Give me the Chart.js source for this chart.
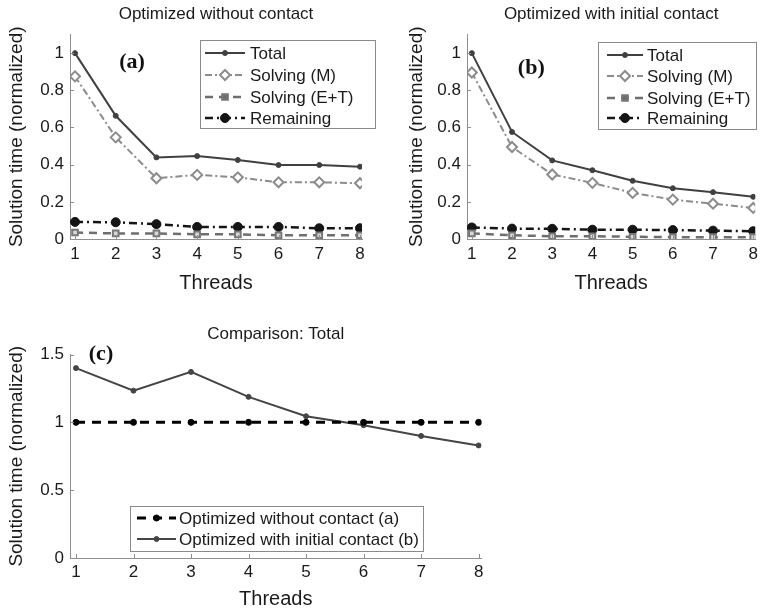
<!DOCTYPE html>
<html>
<head>
<meta charset="utf-8">
<script src="https://cdn.jsdelivr.net/npm/chart.js@4.4.0/dist/chart.umd.min.js"></script>
<style>
  html, body { margin: 0; padding: 0; background: #fff; }
  body { width: 763px; height: 614px; position: relative; overflow: hidden; }
  canvas { position: absolute; }
</style>
</head>
<body>
<canvas id="ca" width="380" height="300" style="left:0;top:0;width:380px;height:300px"></canvas>
<canvas id="cb" width="383" height="300" style="left:380px;top:0;width:383px;height:300px"></canvas>
<canvas id="cc" width="490" height="314" style="left:0;top:300px;width:490px;height:314px"></canvas>
<script>
// ---------- data ----------
const threads = [1, 2, 3, 4, 5, 6, 7, 8];
const seriesNames = ["Total", "Solving (M)", "Solving (E+T)", "Remaining"];

const aTotal     = [1.000, 0.663, 0.439, 0.446, 0.425, 0.398, 0.398, 0.389];
const aSolvingM  = [0.875, 0.547, 0.327, 0.345, 0.332, 0.305, 0.305, 0.300];
const aSolvingET = [0.035, 0.030, 0.030, 0.025, 0.025, 0.020, 0.020, 0.020];
const aRemaining = [0.092, 0.090, 0.080, 0.065, 0.065, 0.065, 0.058, 0.058];

const bTotal     = [1.000, 0.576, 0.423, 0.370, 0.313, 0.273, 0.252, 0.227];
const bSolvingM  = [0.896, 0.495, 0.347, 0.302, 0.248, 0.212, 0.190, 0.167];
const bSolvingET = [0.030, 0.020, 0.015, 0.015, 0.012, 0.010, 0.010, 0.010];
const bRemaining = [0.062, 0.056, 0.055, 0.050, 0.050, 0.048, 0.045, 0.042];

const cNames   = ["Optimized without contact (a)", "Optimized with initial contact (b)"];
const cWithout = [1, 1, 1, 1, 1, 1, 1, 1];
const cWith    = [1.400, 1.234, 1.372, 1.188, 1.045, 0.979, 0.900, 0.830];

const abYTicks = [0, 0.2, 0.4, 0.6, 0.8, 1];
const cYTicks  = [0, 0.5, 1, 1.5];

const titles = ["Optimized without contact", "Optimized with initial contact", "Comparison: Total"];
const panelLabels = ["(a)", "(b)", "(c)"];
const xTitle = "Threads";
const yTitle = "Solution time (normalized)";

// ---------- helpers ----------
const pts = arr => threads.map((t, i) => ({ x: t, y: arr[i] }));
const SANS = '"Liberation Sans", Arial, sans-serif';
const AXIS = '#8f8f8f';

function fourSeries(total, m, et, rem) {
  return [
    { label: seriesNames[0], data: pts(total), borderColor: '#404040', borderWidth: 2,
      pointStyle: 'circle', pointRadius: 2.5, pointBackgroundColor: '#404040', pointBorderColor: '#404040',
      pointBorderWidth: 1, legendFill: '#404040', legendRadius: 2.5 },
    { label: seriesNames[1], data: pts(m), borderColor: '#8c8c8c', borderWidth: 2, borderDash: [7, 3, 2, 3],
      pointStyle: 'rectRot', pointRadius: 5, pointBackgroundColor: '#ffffff', pointBorderColor: '#8c8c8c',
      pointBorderWidth: 2, legendFill: '#ffffff', legendRadius: 5 },
    { label: seriesNames[2], data: pts(et), borderColor: '#6e6e6e', borderWidth: 2.5, borderDash: [8, 6],
      pointStyle: 'rect', pointRadius: 4, pointBackgroundColor: '#d8d8d8', pointBorderColor: '#777777',
      pointBorderWidth: 2, legendFill: '#6e6e6e', legendRadius: 4 },
    { label: seriesNames[3], data: pts(rem), borderColor: '#151515', borderWidth: 2.5, borderDash: [8, 4, 2, 4],
      pointStyle: 'circle', pointRadius: 4.5, pointBackgroundColor: '#151515', pointBorderColor: '#151515',
      pointBorderWidth: 1, legendFill: '#151515', legendRadius: 4.5 }
  ];
}

// inward tick marks + panel label + boxed legend
const decorPlugin = {
  id: 'decor',
  afterDatasetsDraw(chart, args, opts) {
    const ctx = chart.ctx;
    const xs = chart.scales.x, ys = chart.scales.y;
    const area = chart.chartArea;
    ctx.save();
    ctx.strokeStyle = AXIS; ctx.lineWidth = 1; ctx.setLineDash([]);
    xs.ticks.forEach(t => {
      const px = Math.round(xs.getPixelForValue(t.value)) + 0.5;
      ctx.beginPath(); ctx.moveTo(px, area.bottom); ctx.lineTo(px, area.bottom - 4); ctx.stroke();
    });
    ys.ticks.forEach(t => {
      const py = Math.round(ys.getPixelForValue(t.value)) + 0.5;
      ctx.beginPath(); ctx.moveTo(area.left, py); ctx.lineTo(area.left + 4, py); ctx.stroke();
    });
    ctx.fillStyle = '#111';
    ctx.font = 'bold 22px "Liberation Serif", "Times New Roman", serif';
    ctx.textAlign = 'center'; ctx.textBaseline = 'middle';
    ctx.fillText(opts.label, xs.getPixelForValue(opts.labelAt[0]), ys.getPixelForValue(opts.labelAt[1]));
    const lg = opts.legend;
    ctx.fillStyle = '#fff';
    ctx.fillRect(lg.box[0], lg.box[1], lg.box[2] - lg.box[0], lg.box[3] - lg.box[1]);
    ctx.strokeStyle = '#8a8a8a'; ctx.lineWidth = 1;
    ctx.strokeRect(lg.box[0] + 0.5, lg.box[1] + 0.5, lg.box[2] - lg.box[0], lg.box[3] - lg.box[1]);
    chart.data.datasets.forEach((ds, i) => {
      const y = lg.rows[i];
      ctx.save();
      ctx.strokeStyle = ds.borderColor; ctx.lineWidth = ds.borderWidth;
      ctx.setLineDash(ds.borderDash || []);
      ctx.beginPath(); ctx.moveTo(lg.line[0], y); ctx.lineTo(lg.line[1], y); ctx.stroke();
      ctx.setLineDash([]);
      ctx.fillStyle = ds.legendFill; ctx.strokeStyle = ds.pointBorderColor; ctx.lineWidth = ds.pointBorderWidth;
      Chart.helpers.drawPoint(ctx, { pointStyle: ds.pointStyle, radius: ds.legendRadius, rotation: 0,
        borderWidth: ds.pointBorderWidth }, (lg.line[0] + lg.line[1]) / 2, y);
      ctx.restore();
      ctx.fillStyle = '#1a1a1a'; ctx.font = '17px ' + SANS;
      ctx.textAlign = 'left'; ctx.textBaseline = 'middle';
      ctx.fillText(ds.label, lg.text, y + 1);
    });
    ctx.restore();
  }
};

function makeChart(id, datasets, o) {
  return new Chart(document.getElementById(id), {
    type: 'line',
    data: { datasets },
    plugins: [decorPlugin],
    options: {
      responsive: false, animation: false, devicePixelRatio: 1,
      layout: { padding: { left: 0, right: o.padRight, top: 0, bottom: 0 } },
      plugins: {
        legend: { display: false }, tooltip: { enabled: false },
        title: { display: true, text: o.title, fullSize: false, color: '#1a1a1a',
          font: { family: SANS, size: 17, weight: 'normal', lineHeight: 1.15 }, padding: { top: o.titleTop, bottom: 10 } },
        decor: { label: o.label, labelAt: o.labelAt, legend: o.legend }
      },
      scales: {
        x: {
          type: 'linear', min: o.xMin, max: o.xMax,
          afterBuildTicks: s => { s.ticks = threads.map(v => ({ value: v })); },
          afterFit: s => { s.height = o.xHeight; },
          grid: { display: false, drawTicks: false },
          border: { display: true, color: AXIS, width: 1 },
          ticks: { color: '#1a1a1a', padding: o.xTickPad, font: { family: SANS, size: 17 }, callback: v => String(v) },
          title: { display: true, text: xTitle, color: '#1a1a1a', font: { family: SANS, size: 20 },
            padding: { top: 0, bottom: o.xTitlePad } }
        },
        y: {
          type: 'linear', min: 0, max: o.yMax,
          afterBuildTicks: s => { s.ticks = o.yTicks.map(v => ({ value: v })); },
          afterFit: s => { s.width = o.yWidth; },
          grid: { display: false, drawTicks: false },
          border: { display: true, color: AXIS, width: 1 },
          ticks: { color: '#1a1a1a', padding: 6, font: { family: SANS, size: 17 }, callback: v => String(v) },
          title: { display: true, text: yTitle, color: '#1a1a1a', font: { family: SANS, size: 19 },
            padding: { top: o.yTitlePad, bottom: 0 } }
        }
      }
    }
  });
}

makeChart('ca', fourSeries(aTotal, aSolvingM, aSolvingET, aRemaining), {
  title: titles[0], label: panelLabels[0], labelAt: [2.4, 0.95],
  padRight: 18, titleTop: 5, xMin: 0.877, xMax: 8.05, yMax: 1.1, yTicks: abYTicks,
  xHeight: 61, yWidth: 70, xTickPad: 5, xTitlePad: 5, yTitlePad: 5,
  legend: { box: [200, 40, 375, 128], rows: [53, 75, 97, 118], line: [205, 245], text: 250 }
});

makeChart('cb', fourSeries(bTotal, bSolvingM, bSolvingET, bRemaining), {
  title: titles[1], label: panelLabels[1], labelAt: [2.48, 0.917],
  padRight: 1, titleTop: 5, xMin: 0.88, xMax: 8.05, yMax: 1.1, yTicks: abYTicks,
  xHeight: 61, yWidth: 87, xTickPad: 5, xTitlePad: 5, yTitlePad: 25,
  legend: { box: [218, 42, 376, 129], rows: [55, 76, 98, 118], line: [227, 263], text: 267 }
});

makeChart('cc', [
  { label: cNames[0], data: pts(cWithout), borderColor: '#000000', borderWidth: 3, borderDash: [9, 7],
    pointStyle: 'circle', pointRadius: 3, pointBackgroundColor: '#000', pointBorderColor: '#000',
    pointBorderWidth: 1, legendFill: '#000', legendRadius: 3 },
  { label: cNames[1], data: pts(cWith), borderColor: '#454545', borderWidth: 2,
    pointStyle: 'circle', pointRadius: 2.5, pointBackgroundColor: '#454545', pointBorderColor: '#454545',
    pointBorderWidth: 1, legendFill: '#454545', legendRadius: 2.5 }
], {
  title: titles[2], label: panelLabels[2], labelAt: [1.435, 1.5],
  padRight: 8.5, titleTop: 25, xMin: 0.896, xMax: 8.05, yMax: 1.5, yTicks: cYTicks,
  xHeight: 56, yWidth: 70, xTickPad: 4, xTitlePad: 2.5, yTitlePad: 5,
  legend: { box: [130, 206, 423, 251], rows: [218, 239], line: [137, 176], text: 179 }
});
</script>
</body>
</html>
